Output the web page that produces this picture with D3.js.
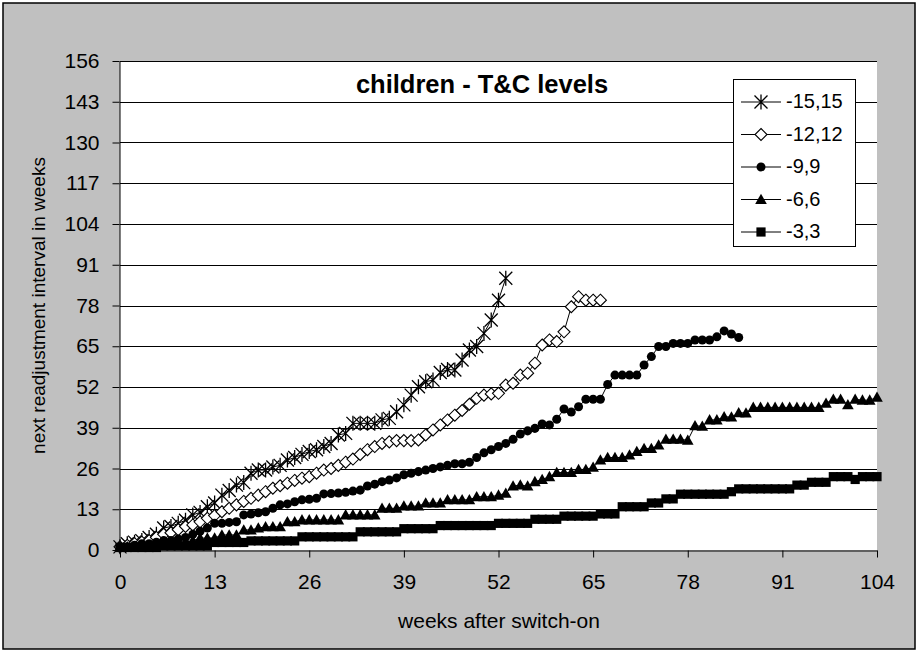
<!DOCTYPE html>
<html>
<head>
<meta charset="utf-8">
<script src="https://cdn.jsdelivr.net/npm/d3@7"></script>
<style>
  body { margin: 0; background: #fff; }
  text { font-family: "Liberation Sans", Arial, sans-serif; fill: #000; }
</style>
</head>
<body>
<div id="chart"></div>
<script>
// series labels, in legend order
const seriesNames = ["-15,15", "-12,12", "-9,9", "-6,6", "-3,3"];
const markerTypes = ["asterisk", "diamond", "circle", "triangle", "square"];

// next readjustment interval (weeks), one value per week from week 0
const s15 = [1, 2, 2.5, 3, 4, 5, 7, 7.5, 8.5, 9.5, 11.2, 12, 13.8, 15, 17.5, 19, 20.7, 21.5, 24.5, 25.5,
  25.5, 26.5, 27, 28.7, 29.5, 30.5, 31.4, 32, 33, 34, 36.7, 37.2, 40.4, 40.4, 40.4, 40.4, 41.5, 42, 44.1, 46.3,
  49.4, 52.1, 53.7, 54.2, 56.6, 57.6, 57.4, 60.6, 63.8, 64.9, 69.1, 73.4, 79.7, 86.7];

const s12 = [1, 1.5, 2, 2.5, 3, 4, 5, 5.5, 6.5, 7.5, 8, 9, 10.1, 11, 12.2, 13.3, 14.4, 15.5, 16.5, 17.5,
  18.6, 19.7, 20.5, 21.3, 22.2, 22.9, 23.4, 24.5, 25.5, 26, 27, 28, 29, 30.5, 32, 33, 34, 34.5, 34.9, 34.9,
  34.9, 35.1, 36.7, 38.3, 39.9, 41.5, 43, 44.5, 46.5, 48.4, 49.4, 49.8, 50, 52.6, 53.2, 55.8, 56.4, 59.6, 65.4, 67,
  66.5, 69.6, 77.6, 80.8, 79.7, 79.7, 79.7];

const s9 = [1, 1, 1.5, 2, 2, 2.5, 3, 3, 3.5, 4, 5, 6, 7, 8.5, 8.5, 8.8, 9, 11.2, 11.5, 11.9,
  12.2, 13.3, 14.4, 14.7, 15.4, 16, 16.2, 16.5, 17.9, 18, 18.2, 18.4, 18.8, 19.1, 20.4, 21, 21.8, 22.3, 23, 24,
  24.5, 25, 25.5, 26, 26.5, 27, 27.5, 27.5, 28, 29.5, 31, 32, 33, 34, 35.3, 37, 38, 38.8, 40.2, 39.9,
  41.7, 45, 44, 45.7, 48.1, 48.1, 48.1, 52.8, 55.8, 55.8, 55.8, 55.8, 59, 61.7, 64.9, 64.9, 65.9, 65.9, 65.9, 67,
  67, 67, 68, 69.9, 68.9, 67.8];

const s6 = [1, 1, 1, 1, 1, 1.5, 1.5, 2, 2, 2.5, 3, 3.8, 3.8, 3.8, 4.8, 4.8, 4.8, 6.4, 6.4, 7,
  7.4, 7.4, 7.4, 9, 9, 9.6, 9.6, 9.6, 9.6, 9.6, 9.6, 11.2, 11.2, 11.2, 11.2, 11.2, 13.3, 13.3, 13.3, 14,
  14, 14, 15, 15, 15, 16, 16, 16, 16, 17, 17, 17, 17.5, 18.1, 20.4, 20.7, 20.4, 21.8, 22.5, 23.4,
  24.7, 24.7, 24.7, 25.7, 25.7, 26.4, 28.7, 29.5, 29.5, 29.5, 30.3, 31.4, 32.4, 32.4, 33.5, 35.3, 35.3, 35.3, 35, 39.6,
  39.5, 41.5, 41.5, 42.5, 42.4, 43.8, 43.7, 45.5, 45.5, 45.5, 45.5, 45.5, 45.5, 45.5, 45.5, 45.5, 45.5, 46.8, 48.1, 48.1,
  46.3, 48.1, 47.8, 47.8, 48.7];

const s3 = [0.8, 0.8, 0.8, 0.8, 0.8, 0.8, 1.3, 1.3, 1.3, 1.3, 1.3, 1.3, 1.3, 2.4, 2.4, 2.4, 2.4, 2.4, 2.9, 2.9,
  2.9, 2.9, 2.9, 2.9, 2.9, 4.2, 4.2, 4.2, 4.2, 4.2, 4.2, 4.2, 4.2, 5.8, 5.8, 5.8, 5.8, 5.8, 5.8, 6.8,
  6.8, 6.8, 6.8, 6.8, 7.8, 7.8, 7.8, 7.8, 7.8, 7.8, 7.8, 7.8, 8.5, 8.5, 8.5, 8.5, 8.5, 9.8, 9.8, 9.8,
  9.8, 10.8, 10.8, 10.8, 10.8, 10.8, 11.5, 11.5, 11.5, 13.8, 13.8, 13.8, 13.8, 15, 15, 16.3, 16.3, 17.8, 17.8, 17.8,
  17.8, 17.8, 17.8, 17.8, 18.6, 19.5, 19.5, 19.5, 19.5, 19.5, 19.5, 19.5, 19.5, 20.7, 20.7, 21.6, 21.6, 21.6, 23.4, 23.4,
  23.4, 22.5, 23.4, 23.4, 23.4];

const allSeries = [s15, s12, s9, s6, s3];
const tickValues = d3.range(0, 157, 13);
const xTickValues = d3.range(0, 105, 13);

const width = 919;
const height = 653;

const svg = d3.select("#chart").append("svg")
  .attr("width", width)
  .attr("height", height);

// grey chart area with border
svg.append("rect")
  .attr("x", 3).attr("y", 3)
  .attr("width", 912).attr("height", 646)
  .attr("fill", "#c0c0c0")
  .attr("stroke", "#000")
  .attr("stroke-width", 1.5);

const x = d3.scaleLinear().domain([0, 104]).range([120, 877]);
const y = d3.scaleLinear().domain([0, 156]).range([550, 61]);

// plot area
svg.append("rect")
  .attr("x", x(0)).attr("y", y(156))
  .attr("width", x(104) - x(0))
  .attr("height", y(0) - y(156))
  .attr("fill", "#fff");

// gridlines
svg.append("g")
  .selectAll("line")
  .data(tickValues.filter((d) => d > 0))
  .join("line")
  .attr("x1", x(0)).attr("x2", x(104))
  .attr("y1", (d) => Math.round(y(d)) + 0.5)
  .attr("y2", (d) => Math.round(y(d)) + 0.5)
  .attr("stroke", "#000")
  .attr("stroke-width", 1);

// axes
const yAxis = svg.append("g")
  .attr("transform", `translate(${x(0) - 0.5},0)`)
  .call(d3.axisLeft(y).tickValues(tickValues).tickSize(7).tickSizeOuter(0).tickPadding(13));
const xAxis = svg.append("g")
  .attr("transform", `translate(0,${Math.round(y(0)) + 0.5})`)
  .call(d3.axisBottom(x).tickValues(xTickValues).tickSize(7).tickSizeOuter(0).tickPadding(17));

[yAxis, xAxis].forEach((g) => {
  g.selectAll("text").style("font-size", "21px").attr("fill", "#000");
  g.selectAll("line").attr("stroke", "#000");
  g.select(".domain").attr("stroke", "#000");
});

// marker shapes
function markerPath(type) {
  if (type === "asterisk") return "M-6.5,-6.5L6.5,6.5M-6.5,6.5L6.5,-6.5M0,-7.5L0,7.5";
  if (type === "diamond") return "M0,-6L6,0L0,6L-6,0Z";
  if (type === "triangle") return "M0,-5.8L5.8,4.5L-5.8,4.5Z";
  if (type === "square") return "M-4.6,-4.6H4.6V4.6H-4.6Z";
  return d3.symbol(d3.symbolCircle, 64)();
}
function styleMarker(sel, type) {
  if (type === "asterisk") sel.attr("fill", "none").attr("stroke", "#000").attr("stroke-width", 1.3);
  else if (type === "diamond") sel.attr("fill", "#fff").attr("stroke", "#000").attr("stroke-width", 1.1);
  else sel.attr("fill", "#000").attr("stroke", "none");
}

const line = d3.line()
  .x((d, i) => x(i))
  .y((d) => y(d));

allSeries.forEach((vals, k) => {
  const g = svg.append("g").attr("class", "series");
  g.append("path")
    .datum(vals)
    .attr("d", line)
    .attr("fill", "none")
    .attr("stroke", "#000")
    .attr("stroke-width", 1);
  g.selectAll("path.mk")
    .data(vals)
    .join("path")
    .attr("class", "mk")
    .attr("transform", (d, i) => `translate(${x(i)},${y(d)})`)
    .attr("d", markerPath(markerTypes[k]))
    .call(styleMarker, markerTypes[k]);
});

// title
svg.append("text")
  .attr("x", 482).attr("y", 86)
  .attr("text-anchor", "middle")
  .attr("dominant-baseline", "middle")
  .style("font-size", "25.5px")
  .style("font-weight", "bold")
  .text("children - T&C levels");

// axis titles
svg.append("text")
  .attr("x", 499).attr("y", 622)
  .attr("text-anchor", "middle")
  .attr("dominant-baseline", "middle")
  .style("font-size", "21px")
  .text("weeks after switch-on");

svg.append("text")
  .attr("transform", `translate(40,${(y(0) + y(156)) / 2}) rotate(-90)`)
  .attr("text-anchor", "middle")
  .attr("dominant-baseline", "middle")
  .style("font-size", "19px")
  .text("next readjustment interval in weeks");

// legend
const legendG = svg.append("g");
legendG.append("rect")
  .attr("x", 733.5).attr("y", 79.5)
  .attr("width", 122).attr("height", 167)
  .attr("fill", "#fff")
  .attr("stroke", "#000");

seriesNames.forEach((name, k) => {
  const ly = 102 + k * 32.5;
  legendG.append("line")
    .attr("x1", 741).attr("x2", 781)
    .attr("y1", ly).attr("y2", ly)
    .attr("stroke", "#000");
  legendG.append("path")
    .attr("transform", `translate(761,${ly})`)
    .attr("d", markerPath(markerTypes[k]))
    .call(styleMarker, markerTypes[k]);
  legendG.append("text")
    .attr("x", 786).attr("y", ly + 1)
    .attr("dominant-baseline", "middle")
    .style("font-size", "20px")
    .text(name);
});
</script>
</body>
</html>
